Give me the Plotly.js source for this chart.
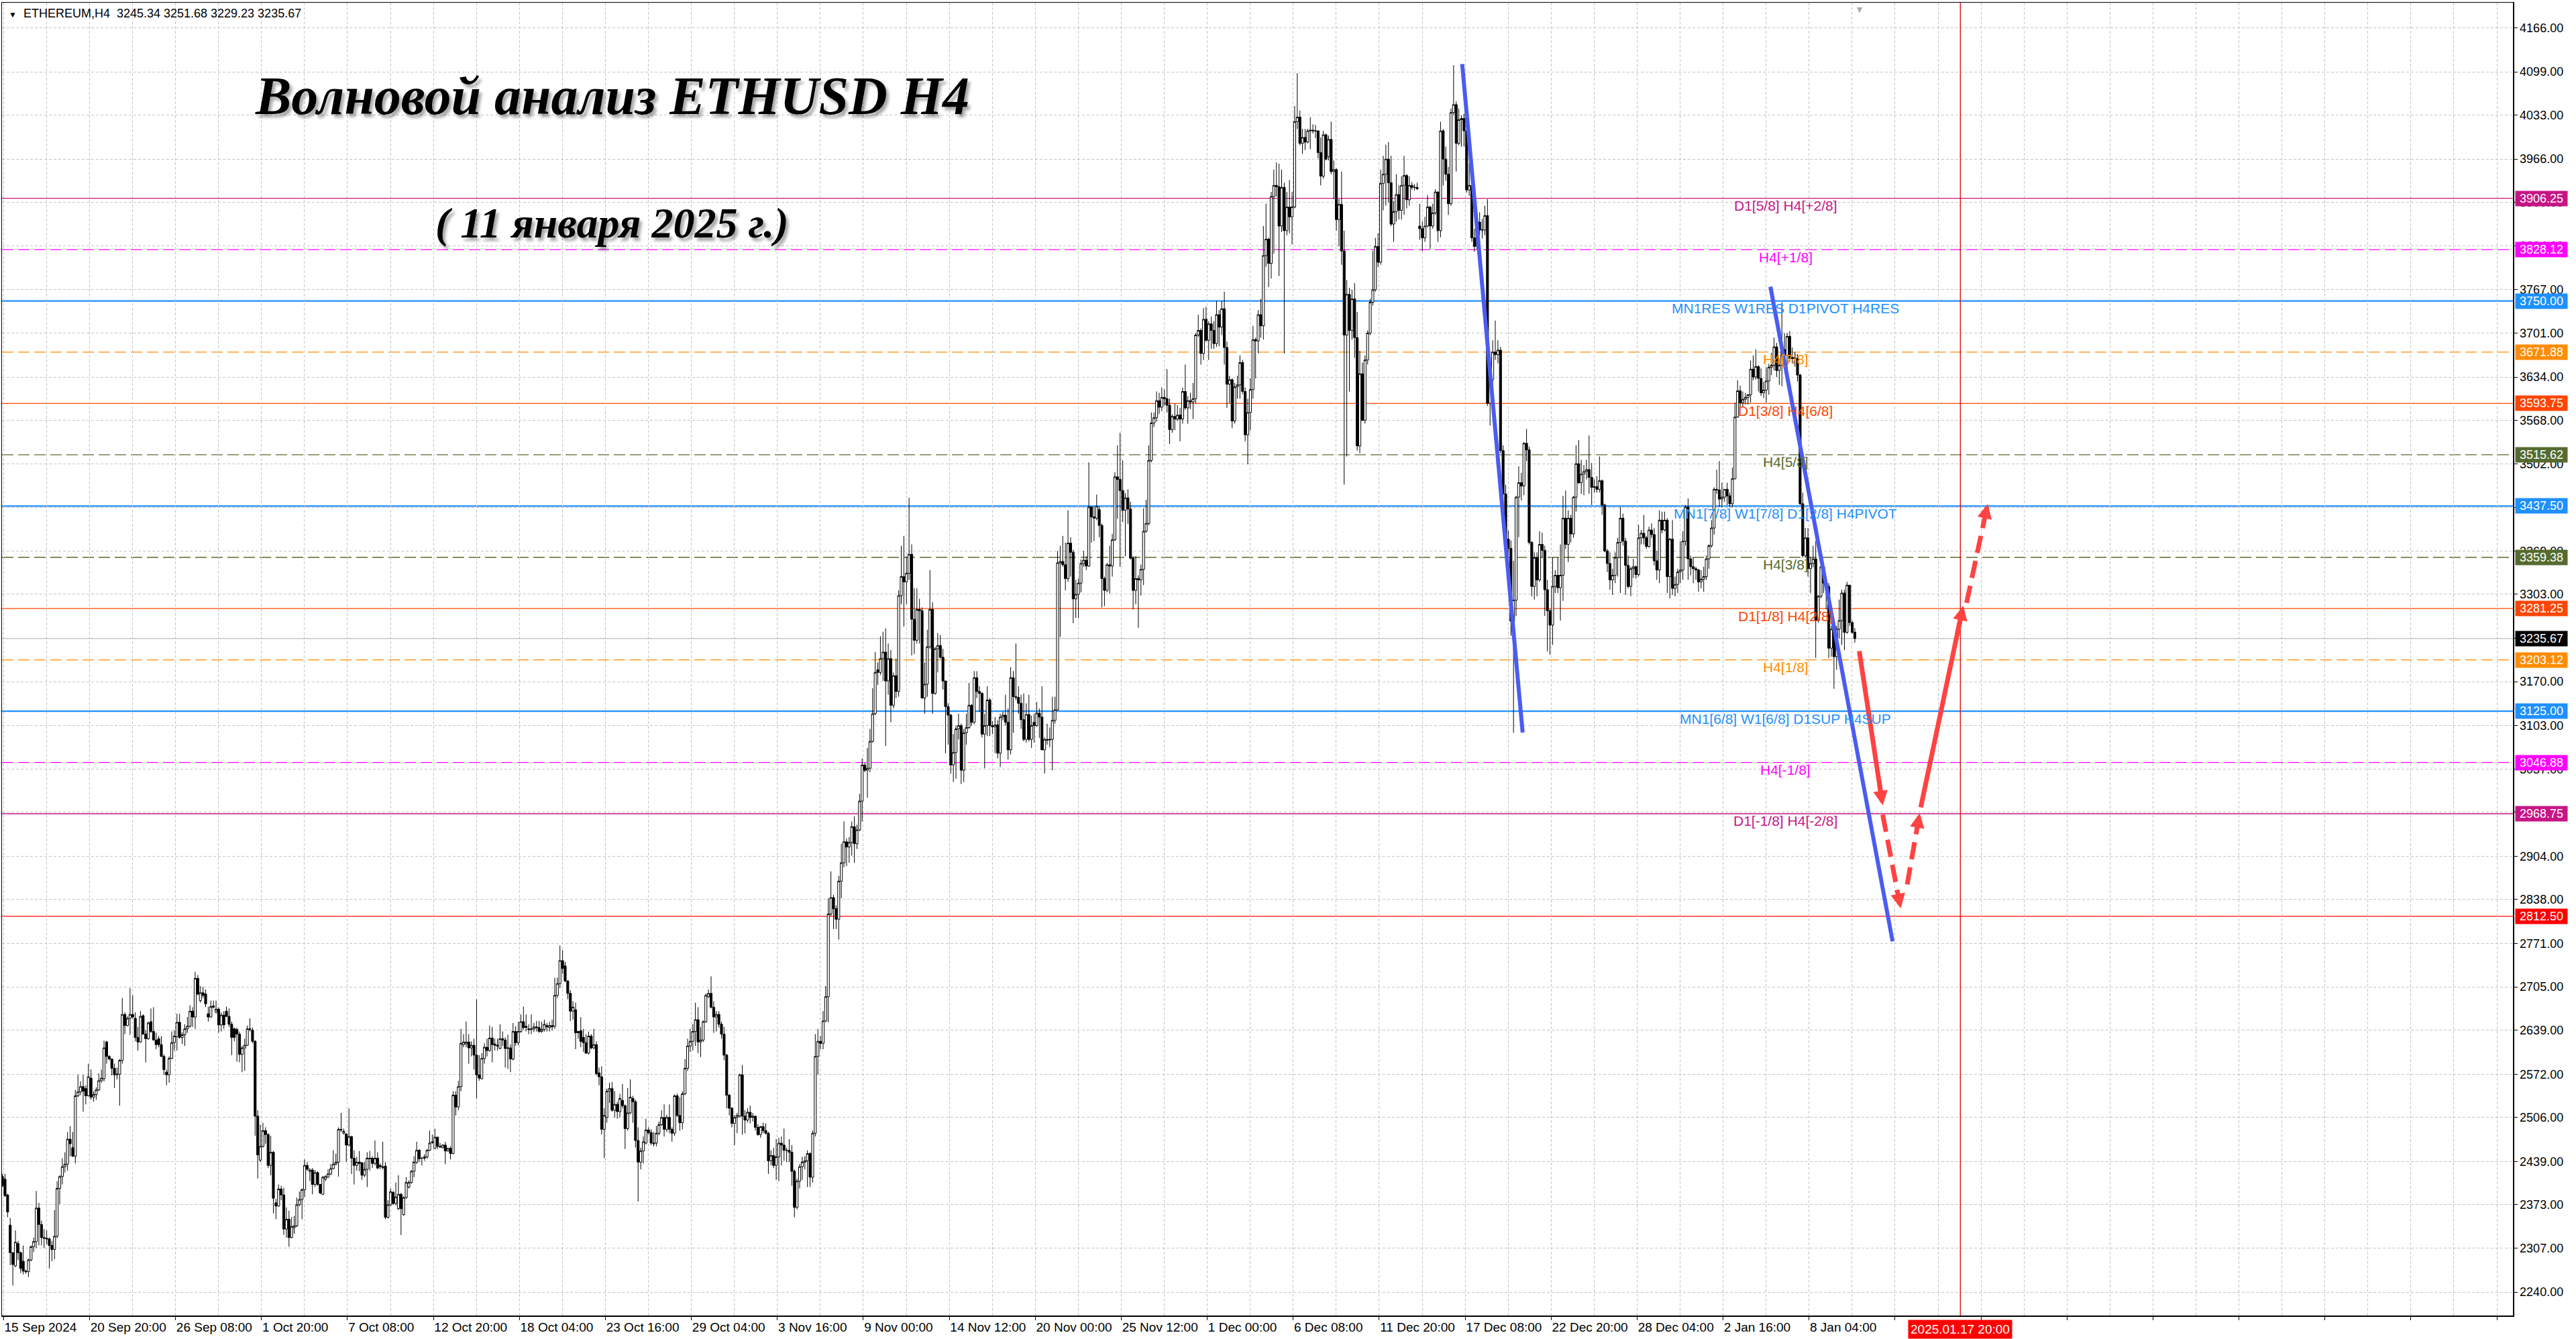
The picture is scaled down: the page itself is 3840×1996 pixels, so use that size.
<!DOCTYPE html>
<html>
<head>
<meta charset="utf-8">
<title>ETHUSD H4</title>
<script src="https://cdn.plot.ly/plotly-3.0.1.min.js"></script>
<style>
  html, body { margin: 0; padding: 0; background: #fff; }
  #chart { width: 3840px; height: 1996px; }
</style>
</head>
<body>
<div id="chart"></div>
<script>
// ETHEREUM H4 candles, one per bar index (15 Sep 2024 .. 11 Jan 2025)
var opens = [
2416,2412,2388,2342,2300,2280,2314,2300,2287,2272,
2271,2289,2309,2317,2368,2343,2323,2322,2321,2311,
2305,2325,2398,2416,2431,2435,2473,2460,2447,2539,
2545,2553,2550,2539,2566,2537,2541,2548,2562,2565,
2621,2599,2595,2581,2571,2572,2593,2663,2646,2657,
2663,2657,2628,2621,2661,2633,2626,2652,2637,2624,
2626,2617,2599,2575,2571,2596,2620,2629,2651,2628,
2632,2641,2645,2668,2659,2718,2684,2696,2694,2664,
2659,2674,2667,2671,2647,2662,2668,2660,2648,2641,
2640,2633,2602,2612,2616,2641,2639,2622,2508,2441,
2462,2486,2480,2433,2453,2376,2371,2397,2388,2336,
2351,2323,2338,2341,2373,2381,2396,2433,2424,2426,
2404,2422,2404,2389,2412,2415,2420,2428,2435,2438,
2488,2482,2481,2464,2477,2444,2433,2438,2437,2418,
2427,2443,2444,2436,2444,2433,2431,2432,2354,2373,
2392,2375,2367,2389,2358,2384,2400,2407,2424,2438,
2456,2444,2444,2446,2456,2469,2459,2476,2462,2460,
2464,2455,2459,2451,
2540,2522,2553,2617,2618,2621,2612,2616,2601,2571,
2565,2596,2613,2608,2627,2618,2616,2611,2626,2624,
2611,2612,2595,2637,2620,2637,2652,2645,2641,2640,
2641,2644,2643,2637,2640,2646,2643,2646,2645,2692,
2710,2745,2737,2714,2695,2668,2670,2637,2638,2628,
2620,2604,2630,2612,2617,2574,2568,2488,2506,2546,
2550,2517,2526,2515,2532,2524,2489,2513,2535,2530,
2471,2438,2455,2467,2487,2483,2467,2467,2482,2495,
2506,2488,2506,2488,2482,2539,2509,2498,2542,2581,
2615,2622,2637,2655,2621,2624,2652,2690,2695,2674,
2659,2663,2648,2633,2601,2540,2520,2497,2506,2508,
2571,2508,2502,2514,2506,2508,2491,2480,2492,2486,
2482,2440,2448,2433,2446,2467,2464,2456,2456,2453,
2424,2369,2409,2431,2438,2440,2451,2415,2482,2599,
2622,2619,2653,2690,
2816,2841,2824,2808,2866,2894,2926,2918,2925,2949,
2923,2944,2988,3043,3035,3038,3079,3121,3188,3184,
3205,3215,3171,3205,3134,3179,3155,3301,3330,3322,
3335,3364,3265,3233,3280,3278,3145,3166,3223,3280,
3152,3220,3225,3207,3171,3132,3119,3043,3062,3098,
3103,3035,3092,3100,3134,3108,3176,3155,3152,3090,
3103,3142,3103,3101,3104,3061,3116,3119,3108,3066,
3176,3147,3146,3137,3112,3082,3120,3082,3108,3103,
3122,3116,3066,3082,3081,3082,3111,3127,3351,3353,
3348,3327,3381,3367,3296,3303,3320,3350,3355,3346,
3436,3421,3419,3432,3408,3327,3309,3348,3346,3386,
3482,3478,3461,3431,3450,3433,3358,3309,3327,3325,
3341,3399,3411,3507,3564,3572,3598,3588,3603,
3601,3591,3554,3574,3570,3576,3570,3612,3587,3598,
3596,3601,3698,3705,3670,3722,3690,3715,3705,3685,
3729,3710,3738,3679,3623,3630,3567,3619,3622,3656,
3612,3546,3580,3615,3691,3689,3729,3712,3819,3844,
3807,3909,3926,3924,3864,3923,3857,3893,3878,3893,
4023,4030,3990,3999,3992,4009,4010,4009,4009,3976,
3940,4003,3970,3996,3947,3950,3874,3897,3826,3698,
3760,3705,3753,3694,3529,3639,3568,3660,3701,3748,
3767,3833,3809,3929,3943,3966,3930,3867,3886,3912,
3888,3926,3941,3904,3926,3923,3923,3864,3860,3846,
3864,3893,3864,3884,3916,3857,4009,3966,3943,3898,
4037,4049,3990,4026,4028,4009,3919,3926,3846,3833,
3870,3858,3858,3880,3594,3630,3672,3668,3675,3522,
3456,3387,3373,3262,
3294,3451,3473,3468,3533,3523,3382,3315,3359,3325,
3379,3370,3310,3278,3256,3315,3332,3313,3332,3419,
3379,3419,3395,3451,3502,3473,3486,3490,3493,3481,
3466,3467,3463,3476,3439,3369,3350,3325,3332,3359,
3382,3419,3384,3347,3315,3342,3345,3333,3389,3396,
3389,3376,3401,3394,3354,3340,3416,3401,3416,3330,
3387,3312,3318,3337,3340,3384,3436,3357,3345,3342,
3340,3322,3326,3330,3357,3377,3404,3463,3462,3448,
3451,3463,3453,3441,3479,3573,3613,3595,3600,3603,
3607,3646,3634,3650,3632,3610,3614,3628,3649,3652,
3680,3644,3652,3676,3667,3696,3662,3664,3662,3637,
3441,3362,3389,3342,3350,3357,3263,3300,3345,3320,
3315,3221,3250,3208,3250,3263,3305,3245,3317,3260,3245.34
];
var highs = [
2420,2420,2390,2353,2301,2334,2318,2302,2311,2274,
2291,2311,2323,2394,2376,2349,2336,2334,2323,2318,
2365,2409,2418,2444,2453,2484,2493,2484,2548,2571,
2561,2571,2555,2588,2579,2546,2552,2573,2579,2623,
2623,2601,2596,2588,2582,2595,2688,2666,2660,2703,
2692,2666,2644,2668,2663,2639,2652,2672,2674,2635,
2630,2630,2602,2579,2599,2637,2639,2664,2664,2636,
2648,2659,2677,2674,2728,2723,2706,2705,2701,2675,
2684,2684,2684,2674,2666,2668,2675,2672,2652,2643,
2643,2637,2615,2626,2646,2657,2643,2624,2517,2495,
2498,2491,2482,2478,2455,2382,2404,2402,2399,2369,
2364,2354,2356,2384,2393,2398,2442,2438,2429,2429,
2426,2424,2405,2417,2418,2427,2435,2456,2451,2491,
2513,2489,2482,2520,2478,2456,2446,2455,2438,2438,
2453,2455,2447,2471,2453,2436,2469,2438,2380,2398,
2394,2407,2418,2391,2386,2415,2410,2426,2447,2469,
2458,2446,2450,2458,2486,2480,2489,2477,2467,2465,
2469,2460,2462,2546,
2546,2562,2641,2633,2652,2633,2622,2626,2686,2601,
2604,2619,2626,2646,2644,2626,2626,2648,2637,2628,
2632,2617,2650,2645,2652,2663,2675,2663,2648,2663,
2650,2653,2653,2652,2655,2650,2652,2655,2719,2719,
2768,2761,2743,2715,2700,2683,2681,2638,2659,2641,
2633,2637,2633,2641,2622,2582,2584,2520,2550,2559,
2560,2546,2530,2542,2557,2526,2551,2564,2539,2533,
2491,2460,2477,2504,2491,2488,2484,2493,2500,2517,
2526,2510,2526,2491,2541,2542,2537,2546,2595,2626,
2641,2648,2681,2674,2644,2654,2695,2701,2721,2683,
2668,2668,2652,2644,2603,2542,2522,2510,2513,2573,
2586,2517,2520,2524,2513,2508,2496,2493,2498,2497,
2484,2456,2460,2473,2475,2477,2489,2460,2473,2464,
2427,2413,2435,2446,2447,2456,2453,2486,2633,2641,
2630,2668,2706,2840,
2881,2845,2829,2874,2923,2957,2931,2933,2957,2965,
2952,2999,3053,3046,3069,3098,3160,3215,3199,3239,
3246,3251,3228,3218,3184,3205,3309,3377,3392,3361,
3450,3379,3312,3312,3296,3283,3199,3249,3340,3291,
3223,3244,3241,3220,3171,3137,3121,3090,3103,3121,
3106,3098,3121,3168,3136,3186,3186,3163,3154,3121,
3163,3145,3110,3116,3111,3121,3124,3150,3129,3192,
3186,3228,3163,3150,3152,3137,3150,3118,3121,3139,
3129,3163,3085,3106,3100,3147,3147,3369,3377,3392,
3382,3431,3390,3371,3325,3327,3356,3369,3361,3504,
3437,3437,3455,3437,3411,3330,3351,3377,3395,3489,
3530,3549,3507,3457,3463,3444,3361,3361,3332,3348,
3434,3447,3530,3580,3580,3612,3610,3618,3615,
3646,3601,3577,3594,3591,3587,3618,3653,3605,3610,
3625,3701,3729,3708,3739,3741,3719,3726,3719,3750,
3736,3750,3764,3688,3636,3632,3625,3636,3667,3660,
3618,3601,3632,3712,3694,3736,3753,3864,3898,3846,
3916,3950,3961,3959,3950,3930,3916,3934,3916,4047,
4097,4040,4012,4012,4012,4030,4019,4018,4010,3999,
4009,4005,4002,4023,3964,3952,3905,3947,3857,3782,
3770,3767,3777,3733,3674,3656,3667,3705,3753,3826,
3846,3853,3950,3971,3988,3992,3971,3902,3943,3926,
3940,3971,3943,3940,3931,3928,3930,3898,3871,3878,
3911,3895,3898,3920,3916,4023,4012,3985,3954,4043,
4109,4054,4043,4033,4035,4012,3960,3935,3860,3880,
3885,3875,3895,3905,3640,3690,3720,3690,3680,3530,
3470,3400,3385,3354,
3453,3498,3488,3535,3555,3528,3384,3367,3367,3399,
3397,3377,3325,3280,3359,3340,3359,3379,3453,3461,
3431,3424,3453,3530,3538,3508,3500,3508,3545,3503,
3478,3483,3513,3478,3441,3372,3367,3342,3367,3389,
3436,3426,3389,3362,3345,3357,3347,3409,3401,3424,
3392,3406,3411,3404,3369,3431,3429,3429,3419,3389,
3416,3330,3342,3384,3399,3439,3449,3362,3359,3345,
3342,3340,3345,3362,3379,3416,3466,3493,3506,3473,
3463,3473,3458,3496,3595,3629,3621,3612,3610,3608,
3659,3667,3676,3652,3647,3627,3649,3654,3671,3694,
3686,3662,3748,3701,3701,3704,3679,3672,3669,3639,
3458,3404,3404,3360,3377,3384,3302,3347,3347,3322,
3320,3255,3265,3255,3295,3310,3310,3322,3317,3263,3251.68
];
var lows = [
2400,2385,2354,2281,2250,2278,2289,2269,2267,2268,
2263,2287,2301,2307,2311,2311,2307,2313,2276,2287,
2290,2322,2374,2404,2422,2425,2447,2446,2436,2537,
2540,2515,2526,2538,2533,2530,2533,2546,2559,2561,
2588,2593,2570,2551,2564,2524,2588,2633,2645,2632,
2657,2622,2608,2620,2632,2590,2624,2635,2624,2610,
2613,2598,2571,2555,2559,2595,2608,2608,2626,2618,
2615,2635,2643,2644,2641,2692,2681,2688,2674,2652,
2658,2672,2664,2635,2637,2641,2659,2644,2601,2622,
2591,2590,2575,2577,2615,2637,2619,2478,2413,2438,
2460,2466,2429,2418,2360,2351,2370,2380,2327,2323,
2309,2322,2329,2339,2371,2351,2385,2425,2409,2389,
2400,2402,2389,2388,2409,2414,2418,2427,2433,2416,
2484,2480,2438,2462,2420,2404,2425,2424,2411,2415,
2400,2425,2429,2433,2427,2427,2427,2351,2352,2371,
2373,2372,2365,2327,2356,2382,2398,2405,2415,2435,
2438,2433,2440,2443,2455,2466,2458,2458,2460,2459,
2435,2454,2442,2450,
2509,2517,2546,2613,2613,2588,2599,2579,2535,2562,
2564,2588,2599,2606,2590,2608,2608,2610,2615,2582,
2580,2575,2593,2615,2616,2635,2640,2637,2633,2633,
2636,2637,2635,2635,2637,2637,2637,2639,2641,2688,
2703,2725,2712,2686,2653,2655,2610,2626,2613,2606,
2603,2602,2610,2610,2570,2555,2480,2444,2498,2528,
2515,2506,2504,2506,2520,2458,2486,2511,2498,2460,
2378,2427,2436,2465,2480,2464,2462,2462,2479,2493,
2477,2484,2482,2469,2478,2507,2486,2488,2540,2577,
2606,2608,2615,2604,2598,2621,2650,2688,2672,2635,
2637,2643,2626,2593,2520,2509,2491,2464,2482,2506,
2480,2482,2498,2497,2500,2486,2478,2475,2482,2480,
2420,2433,2429,2411,2409,2433,2440,2438,2438,2402,
2354,2366,2398,2411,2427,2400,2400,2407,2477,2571,
2610,2610,2651,2651,
2813,2793,2793,2777,2840,2887,2889,2894,2905,2894,
2915,2942,2957,3032,2993,3032,3077,3119,3165,3180,
3171,3072,3150,3108,3129,3145,3147,3288,3254,3288,
3325,3210,3212,3228,3228,3144,3121,3147,3220,3121,
3150,3184,3205,3158,3061,3074,3030,3017,3022,3082,
3014,3017,3074,3098,3103,3105,3145,3124,3085,3038,
3087,3087,3090,3061,3053,3040,3111,3103,3051,3059,
3092,3142,3121,3098,3079,3077,3079,3069,3077,3101,
3084,3066,3030,3074,3070,3035,3106,3126,3238,3345,
3309,3322,3330,3259,3267,3267,3306,3345,3340,3345,
3382,3384,3416,3390,3283,3285,3306,3304,3330,3384,
3418,3345,3413,3361,3410,3356,3280,3288,3252,3301,
3317,3397,3408,3504,3558,3566,3578,3582,3590,
3580,3532,3549,3553,3567,3536,3563,3584,3563,3585,
3570,3594,3695,3653,3660,3688,3660,3677,3677,3680,
3681,3698,3653,3587,3594,3556,3563,3601,3601,3608,
3536,3501,3553,3601,3632,3670,3694,3691,3802,3771,
3784,3822,3909,3788,3855,3670,3850,3853,3836,3891,
4012,3987,3974,3980,3990,3981,4005,3998,3967,3926,
3936,3964,3964,3943,3905,3857,3833,3805,3470,3513,
3612,3691,3663,3522,3518,3567,3563,3653,3698,3743,
3764,3802,3805,3888,3895,3900,3864,3840,3871,3874,
3874,3881,3891,3895,3919,3918,3919,3843,3826,3840,
3862,3829,3860,3881,3840,3847,3926,3933,3881,3895,
4033,3947,3987,3985,3985,3915,3910,3840,3825,3828,
3850,3845,3850,3590,3560,3620,3660,3655,3518,3440,
3370,3340,3240,3092,
3270,3390,3446,3454,3506,3379,3300,3295,3300,3322,
3359,3270,3216,3211,3226,3305,3305,3263,3293,3372,
3352,3382,3389,3429,3471,3456,3454,3478,3456,3439,
3458,3458,3458,3424,3367,3337,3310,3302,3320,3330,
3305,3377,3302,3312,3300,3328,3327,3330,3379,3379,
3372,3374,3389,3347,3325,3320,3396,3399,3305,3297,
3302,3300,3305,3320,3325,3377,3325,3332,3320,3325,
3307,3312,3307,3325,3342,3374,3394,3456,3436,3436,
3444,3439,3436,3436,3478,3572,3587,3588,3592,3592,
3595,3629,3630,3612,3605,3602,3595,3607,3637,3644,
3634,3622,3620,3657,3649,3657,3655,3650,3627,3439,
3359,3359,3330,3305,3344,3206,3260,3297,3305,3280,
3206,3208,3159,3188,3236,3226,3218,3243,3255,3243,3229.23
];
var closes = [
2402,2387,2362,2300,2282,2316,2300,2276,2272,2271,
2289,2309,2317,2368,2343,2323,2322,2321,2311,2305,
2325,2398,2416,2431,2435,2473,2466,2447,2539,2545,
2553,2546,2539,2568,2537,2541,2548,2562,2566,2612,
2599,2595,2581,2571,2572,2593,2663,2646,2657,2663,
2659,2628,2621,2660,2633,2626,2650,2637,2624,2617,
2617,2599,2579,2571,2596,2620,2630,2651,2628,2632,
2641,2645,2668,2659,2718,2694,2696,2692,2679,2659,
2675,2676,2671,2647,2662,2647,2660,2648,2628,2628,
2633,2602,2612,2616,2641,2640,2622,2508,2449,2462,
2486,2480,2433,2453,2383,2371,2397,2388,2336,2351,
2323,2340,2341,2373,2381,2396,2433,2427,2426,2404,
2422,2404,2391,2415,2416,2420,2428,2435,2438,2488,
2487,2485,2464,2477,2444,2433,2438,2436,2418,2427,
2444,2444,2436,2444,2429,2431,2430,2354,2373,2393,
2375,2385,2389,2367,2384,2407,2407,2424,2438,2456,
2443,2444,2446,2456,2467,2468,2476,2462,2461,2464,
2455,2459,2451,2540,
2522,2553,2619,2621,2621,2612,2616,2601,2571,2566,
2596,2613,2608,2627,2617,2616,2615,2626,2624,2611,
2612,2595,2637,2620,2637,2652,2643,2643,2640,2641,
2644,2643,2637,2640,2648,2644,2646,2644,2692,2710,
2745,2733,2714,2695,2668,2674,2635,2635,2622,2620,
2604,2630,2612,2617,2573,2568,2488,2509,2546,2550,
2517,2526,2515,2535,2524,2489,2513,2537,2530,2471,
2438,2455,2469,2487,2483,2467,2466,2482,2495,2506,
2488,2506,2488,2482,2539,2509,2498,2542,2581,2615,
2622,2637,2655,2621,2624,2652,2692,2695,2674,2659,
2663,2648,2633,2601,2540,2520,2497,2506,2509,2571,
2508,2502,2514,2506,2508,2491,2480,2492,2486,2482,
2440,2448,2433,2446,2467,2464,2456,2456,2453,2424,
2369,2409,2431,2438,2440,2451,2415,2482,2599,2622,
2619,2653,2690,2816,
2841,2824,2808,2866,2894,2926,2918,2925,2949,2923,
2944,2988,3043,3035,3038,3079,3121,3184,3184,3205,
3215,3171,3205,3134,3179,3155,3301,3330,3322,3335,
3364,3265,3233,3280,3278,3145,3166,3223,3280,3152,
3220,3225,3207,3171,3132,3119,3043,3062,3098,3103,
3035,3092,3100,3134,3108,3176,3155,3152,3090,3103,
3142,3103,3101,3104,3061,3116,3119,3108,3066,3176,
3147,3146,3137,3112,3082,3120,3082,3103,3103,3122,
3116,3066,3082,3081,3082,3111,3127,3351,3353,3348,
3327,3381,3367,3296,3303,3320,3350,3355,3346,3436,
3421,3419,3437,3408,3327,3309,3348,3346,3386,3482,
3478,3461,3431,3450,3433,3358,3309,3327,3325,3341,
3399,3411,3507,3564,3572,3598,3588,3603,3601,
3591,3554,3574,3570,3576,3570,3612,3587,3598,3596,
3601,3698,3705,3670,3722,3690,3715,3705,3685,3729,
3710,3738,3679,3623,3630,3567,3619,3622,3656,3612,
3546,3580,3615,3691,3689,3729,3712,3819,3844,3807,
3909,3926,3924,3864,3923,3857,3893,3878,3893,4023,
4030,3990,3999,3992,4009,4010,4009,4009,3976,3940,
4003,3966,3996,3947,3950,3874,3897,3826,3698,3760,
3705,3753,3694,3529,3639,3568,3660,3701,3748,3767,
3833,3809,3929,3943,3966,3930,3867,3886,3912,3888,
3926,3941,3904,3926,3923,3923,3921,3860,3846,3864,
3893,3864,3884,3916,3857,4009,3966,3943,3898,4037,
4049,3990,4026,4028,4009,3919,3926,3846,3833,3870,
3858,3858,3880,3594,3630,3672,3668,3675,3522,3456,
3387,3373,3262,3294,
3451,3473,3468,3533,3523,3382,3315,3359,3325,3379,
3370,3310,3278,3256,3315,3332,3313,3332,3419,3379,
3419,3395,3451,3502,3473,3486,3490,3493,3481,3466,
3467,3463,3476,3439,3369,3350,3325,3332,3359,3382,
3419,3384,3347,3315,3342,3345,3333,3389,3396,3389,
3376,3401,3394,3354,3340,3416,3401,3416,3330,3387,
3312,3318,3337,3340,3384,3436,3357,3345,3342,3340,
3322,3326,3330,3357,3377,3404,3463,3462,3448,3451,
3463,3453,3441,3479,3573,3613,3595,3600,3603,3607,
3646,3634,3650,3632,3610,3614,3628,3649,3652,3680,
3644,3652,3676,3667,3696,3662,3664,3662,3637,3441,
3362,3389,3342,3350,3357,3263,3300,3345,3320,3315,
3221,3250,3208,3250,3263,3305,3245,3317,3260,3245,3235.67
];

// time axis labels, one every 33 bars
var dateLabels = ['15 Sep 2024','20 Sep 20:00','26 Sep 08:00','1 Oct 20:00','7 Oct 08:00',
  '12 Oct 20:00','18 Oct 04:00','23 Oct 16:00','29 Oct 04:00','3 Nov 16:00','9 Nov 00:00',
  '14 Nov 12:00','20 Nov 00:00','25 Nov 12:00','1 Dec 00:00','6 Dec 08:00','11 Dec 20:00',
  '17 Dec 08:00','22 Dec 20:00','28 Dec 04:00','2 Jan 16:00','8 Jan 04:00'];
var priceTicks = [4166,4099,4033,3966,3900,3834,3767,3701,3634,3568,3502,3435,3369,3303,3236,
  3170,3103,3037,2971,2904,2838,2771,2705,2639,2572,2506,2439,2373,2307,2240];

// Murrey / pivot levels
var levels = [3906.25,3828.12,3750.00,3671.88,3593.75,3515.62,3437.50,3359.38,3281.25,3203.12,3125.00,3046.88,2968.75,2812.50];
var levelColors = ['#C71585','#FF00FF','#1E90FF','#FF8C00','#FF4500','#556B2F','#1E90FF','#556B2F','#FF4500','#FF8C00','#1E90FF','#FF00FF','#C71585','#FF0000'];
var levelDashed = [0,1,0,1,0,1,0,1,0,1,0,1,0,0];
var levelTexts = ['D1[5/8] H4[+2/8]','H4[+1/8]','MN1RES W1RES D1PIVOT H4RES','H4[7/8]','D1[3/8] H4[6/8]',
  'H4[5/8]','MN1[7/8] W1[7/8] D1[2/8] H4PIVOT','H4[3/8]','D1[1/8] H4[2/8]','H4[1/8]',
  'MN1[6/8] W1[6/8] D1SUP H4SUP','H4[-1/8]','D1[-1/8] H4[-2/8]',''];
var levelTextBar = 684.4;

// hand drawn lines: [bar, price]
var trendFrom = [[560.3,4110.8],[678.6,3771.6]];
var trendTo = [[583.5,3092.4],[725.5,2774.3]];
var arrowTail = [[712.7,3216.5],[721.7,2967.3],[731.1,2861.0],[736.3,2978.5],[753.9,3290.0]];
var arrowTip = [[721.7,2981.5],[728.6,2824.7],[735.9,2969.6],[752.6,3285.6],[762.0,3440.7]];
var arrowDashed = [false,true,true,false,true];
var futureBar = 751.5, futureLabel = '2025.01.17 20:00';

var n = closes.length;
var bars = closes.map(function (_, i) { return i; });
var last = n - 1;

var axisFont = 'Liberation Sans, Arial, sans-serif';
var gridCol = '#c4c4c4';

var tickPos = [], tickTxt = [];
for (var k = 0; k < 30; k++) {
  tickPos.push(0.44 + 33 * k);
  tickTxt.push(dateLabels[k] || '');
}

var shapes = [];
var annotations = [];

levels.forEach(function (lv, i) {
  var blue = levelColors[i] === '#1E90FF';
  shapes.push({
    type: 'line', xref: 'paper', x0: 0, x1: 1, yref: 'y', y0: lv, y1: lv, layer: 'below',
    line: { color: levelColors[i], width: blue ? 2.2 : 1.3, dash: levelDashed[i] ? '17px,7px' : 'solid' }
  });
  if (levelTexts[i]) {
    annotations.push({
      x: levelTextBar, y: lv, xref: 'x', yref: 'y', yshift: -11, showarrow: false,
      text: levelTexts[i], xanchor: 'center', yanchor: 'middle',
      font: { family: axisFont, size: 21, color: levelColors[i] }
    });
  }
  annotations.push({
    xref: 'paper', x: 1, xanchor: 'left', xshift: 3, yref: 'y', y: lv, yanchor: 'middle',
    showarrow: false, text: lv.toFixed(2), bgcolor: levelColors[i], width: 73, height: 18, borderpad: 2,
    font: { family: axisFont, size: 18, color: '#fff' }
  });
});

// current bid line
shapes.push({
  type: 'line', xref: 'paper', x0: 0, x1: 1, yref: 'y', y0: closes[last], y1: closes[last], layer: 'below',
  line: { color: '#c0c0c0', width: 1.2 }
});
annotations.push({
  xref: 'paper', x: 1, xanchor: 'left', xshift: 3, yref: 'y', y: closes[last], yanchor: 'middle',
  showarrow: false, text: closes[last].toFixed(2), bgcolor: '#000', width: 73, height: 18, borderpad: 2,
  font: { family: axisFont, size: 18, color: '#fff' }
});

// future time marker
shapes.push({
  type: 'line', xref: 'x', x0: futureBar, x1: futureBar, yref: 'paper', y0: 0, y1: 1,
  line: { color: '#e00000', width: 1.3 }
});
annotations.push({
  xref: 'x', x: futureBar, yref: 'paper', y: 0, yanchor: 'top', yshift: -6, showarrow: false,
  text: futureLabel, bgcolor: '#ff0000', borderpad: 3,
  font: { family: axisFont, size: 19, color: '#fff' }
});

// blue wave lines
trendFrom.forEach(function (p, i) {
  shapes.push({
    type: 'line', xref: 'x', yref: 'y', x0: p[0], y0: p[1], x1: trendTo[i][0], y1: trendTo[i][1],
    layer: 'above', line: { color: '#4b5cf0', width: 6 }
  });
});

// red forecast arrows
var red = '#ff4242';
arrowTail.forEach(function (t, i) {
  var tip = arrowTip[i];
  var ex = tip[0] - (tip[0] - t[0]) * 0.06, ey = tip[1] - (tip[1] - t[1]) * 0.06;
  shapes.push({
    type: 'line', xref: 'x', yref: 'y', x0: t[0], y0: t[1], x1: ex, y1: ey, layer: 'above',
    line: { color: red, width: 7, dash: arrowDashed[i] ? '26px,12px' : 'solid' }
  });
  annotations.push({
    xref: 'x', yref: 'y', x: tip[0], y: tip[1], axref: 'x', ayref: 'y',
    ax: tip[0] - (tip[0] - t[0]) * 0.14, ay: tip[1] - (tip[1] - t[1]) * 0.14,
    text: '', showarrow: true, arrowhead: 2, arrowsize: 0.62, arrowwidth: 7, arrowcolor: red, standoff: 0
  });
});

// header, titles
annotations.push({
  xref: 'paper', yref: 'paper', x: 0, y: 1, xanchor: 'left', yanchor: 'top', xshift: 8, yshift: -4,
  showarrow: false,
  text: '<span style="font-size:12px">▼</span>  ETHEREUM,H4  ' + opens[last].toFixed(2) + ' ' + highs[last].toFixed(2) + ' ' +
        lows[last].toFixed(2) + ' ' + closes[last].toFixed(2),
  font: { family: axisFont, size: 18, color: '#000' }
});
annotations.push({
  xref: 'paper', yref: 'paper', x: 0.2429, y: 0.929, xanchor: 'center', yanchor: 'middle', showarrow: false,
  text: 'Волновой анализ ETHUSD H4',
  font: { family: 'Liberation Serif, serif', size: 80, style: 'italic', weight: 'bold', color: '#000',
          shadow: '4px 5px 4px rgba(0,0,0,0.35)' }
});
annotations.push({
  xref: 'paper', yref: 'paper', x: 0.2429, y: 0.8319, xanchor: 'center', yanchor: 'middle', showarrow: false,
  text: '( 11 января 2025 г.)',
  font: { family: 'Liberation Serif, serif', size: 64, style: 'italic', weight: 'bold', color: '#000',
          shadow: '4px 5px 4px rgba(0,0,0,0.35)' }
});
// chart shift marker
annotations.push({
  xref: 'x', yref: 'paper', x: 712.8, y: 1, yanchor: 'top', showarrow: false, text: '▼',
  font: { family: axisFont, size: 14, color: '#a8a8a8' }
});

var trace = {
  type: 'candlestick',
  x: bars, open: opens, high: highs, low: lows, close: closes,
  increasing: { line: { color: '#000', width: 1 }, fillcolor: '#fff' },
  decreasing: { line: { color: '#000', width: 1 }, fillcolor: '#000' },
  whiskerwidth: 0,
  hoverinfo: 'skip',
  showlegend: false
};

var layout = {
  width: 3840,
  height: 1996,
  margin: { l: 3, r: 94, t: 4, b: 35, pad: 0 },
  paper_bgcolor: '#fff',
  plot_bgcolor: '#fff',
  showlegend: false,
  boxgap: 0.2,
  boxgroupgap: 0,
  xaxis: {
    type: 'linear',
    range: [-0.15, 963.6],
    rangeslider: { visible: false },
    tickmode: 'array', tickvals: tickPos, ticktext: tickTxt,
    ticklabelposition: 'outside right',
    ticks: 'outside', ticklen: 5, tickcolor: '#000', tickwidth: 1,
    tickfont: { family: axisFont, size: 19, color: '#000' },
    showgrid: true, gridcolor: gridCol, griddash: '4px,3px', gridwidth: 1,
    minor: { tickmode: 'linear', tick0: 0.44 + 16.5, dtick: 33, showgrid: true, gridcolor: gridCol,
             griddash: '4px,3px', gridwidth: 1, ticks: '' },
    showline: true, linecolor: '#000', linewidth: 1.5, mirror: true,
    zeroline: false
  },
  yaxis: {
    side: 'right',
    range: [2204.3, 4204.3],
    tickmode: 'array', tickvals: priceTicks,
    ticktext: priceTicks.map(function (v) { return v.toFixed(2); }),
    ticks: 'outside', ticklen: 5, tickcolor: '#000',
    tickfont: { family: axisFont, size: 18, color: '#000' },
    showgrid: true, gridcolor: gridCol, griddash: '4px,3px', gridwidth: 1,
    showline: true, linecolor: '#000', linewidth: 1.5, mirror: true,
    zeroline: false
  },
  shapes: shapes,
  annotations: annotations
};

Plotly.newPlot('chart', [trace], layout, { staticPlot: true, displayModeBar: false });
</script>
</body>
</html>
